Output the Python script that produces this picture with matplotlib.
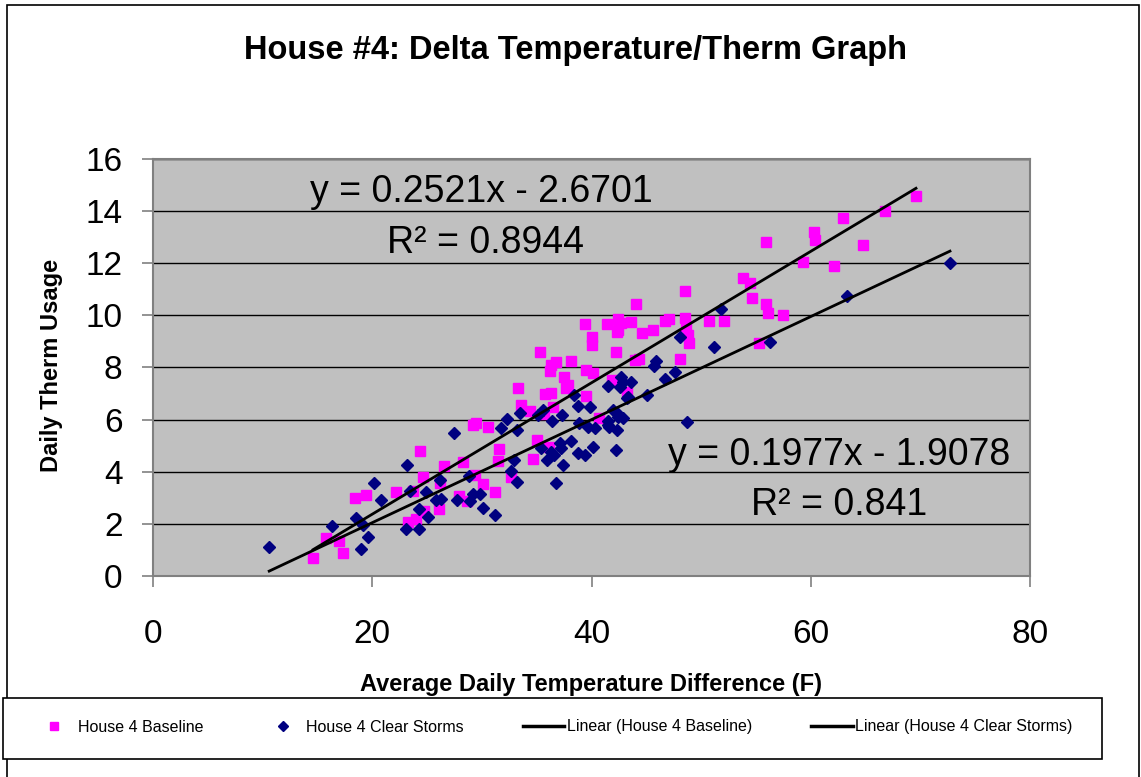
import numpy as np
import matplotlib.pyplot as plt
from matplotlib.patches import Rectangle
from matplotlib.lines import Line2D

plt.rcParams['font.family'] = ['Liberation Sans', 'DejaVu Sans']

# House 4 Baseline (pink squares)
base_x = [24.4, 26.5, 24.6, 26.2, 18.4, 19.4, 22.2, 23.7, 24.7, 26.1, 23.3, 24.0,
          15.8, 17.0, 17.3, 14.6, 40.0, 40.0, 42.3, 42.2, 35.3, 36.3, 36.8, 36.2,
          38.1, 39.5, 40.1, 37.5, 37.9, 37.7, 33.3, 35.8, 36.3, 39.5, 41.9, 43.2,
          33.6, 34.4, 36.5, 35.7, 29.2, 29.5, 30.6, 40.7, 35.0, 36.1, 31.6, 31.5,
          34.7, 28.3, 29.4, 32.7, 30.1, 31.2, 27.9, 28.6, 48.5, 54.6, 55.9, 56.1,
          44.1, 39.4, 41.4, 42.4, 42.7, 42.4, 43.6, 44.6, 45.6, 46.7, 47.1, 48.5,
          48.6, 50.7, 52.1, 48.8, 48.9, 48.1, 44.0, 44.3, 55.3, 69.6, 66.8, 62.9,
          60.3, 60.4, 55.9, 64.8, 59.3, 62.1, 53.8, 54.5, 57.5]
base_y = [4.81, 4.23, 3.81, 3.56, 3.00, 3.10, 3.23, 3.27, 2.50, 2.56, 2.08, 2.19,
          1.45, 1.36, 0.90, 0.68, 9.18, 8.86, 9.37, 8.60, 8.60, 8.10, 8.20, 7.88,
          8.26, 7.90, 7.78, 7.62, 7.33, 7.20, 7.20, 6.98, 7.03, 6.92, 7.52, 7.05,
          6.56, 6.33, 6.50, 6.21, 5.79, 5.86, 5.73, 6.05, 5.22, 4.96, 4.87, 4.41,
          4.48, 4.39, 3.87, 3.81, 3.52, 3.23, 3.08, 2.89, 10.95, 10.65, 10.43, 10.08,
          10.42, 9.67, 9.67, 9.88, 9.69, 9.44, 9.73, 9.31, 9.44, 9.78, 9.85, 9.91,
          9.60, 9.78, 9.78, 9.24, 8.95, 8.31, 8.29, 8.32, 8.95, 14.58, 13.99, 13.75,
          13.18, 12.88, 12.81, 12.70, 12.05, 11.88, 11.42, 11.26, 10.01]

# House 4 Clear Storms (navy diamonds)
storm_x = [10.6, 16.3, 18.5, 19.2, 19.6, 19.0, 20.2, 20.8, 23.2, 23.4, 24.9, 24.3,
           25.1, 23.1, 24.3, 26.2, 25.8, 26.3, 42.7, 42.9, 42.6, 41.5, 38.4, 38.8,
           39.9, 43.2, 42.0, 42.4, 42.9, 35.6, 35.1, 33.5, 32.3, 31.7, 33.2, 27.5,
           36.4, 37.3, 38.9, 39.7, 40.3, 41.5, 41.6, 42.3, 35.4, 35.9, 36.3, 36.6,
           37.1, 37.2, 38.1, 38.8, 39.4, 40.1, 42.2, 32.9, 32.7, 33.2, 37.4, 36.8,
           28.8, 29.2, 29.8, 27.7, 28.9, 30.1, 31.2, 41.5, 42.3, 51.8, 48.1, 51.2,
           56.3, 45.9, 45.7, 47.6, 46.7, 43.6, 43.3, 45.1, 48.7, 72.7, 63.3]
storm_y = [1.10, 1.92, 2.24, 1.94, 1.51, 1.04, 3.56, 2.92, 4.27, 3.26, 3.23, 2.56,
           2.25, 1.80, 1.80, 3.68, 2.92, 2.95, 7.65, 7.45, 7.26, 7.29, 6.94, 6.52,
           6.47, 6.82, 6.37, 6.09, 6.07, 6.37, 6.18, 6.27, 6.01, 5.67, 5.60, 5.47,
           5.96, 6.18, 5.86, 5.73, 5.67, 5.79, 5.70, 5.60, 4.90, 4.45, 4.77, 4.64,
           5.11, 4.92, 5.18, 4.71, 4.64, 4.96, 4.83, 4.45, 4.03, 3.62, 4.26, 3.56,
           3.85, 3.15, 3.15, 2.92, 2.89, 2.62, 2.34, 5.96, 6.24, 10.24, 9.16, 8.80,
           8.99, 8.26, 8.06, 7.81, 7.55, 7.45, 6.86, 6.94, 5.89, 12.02, 10.75]

# trendline coefficients as shown on the chart
base_fit = (0.2521, -2.6701, 0.8944)
storm_fit = (0.1977, -1.9078, 0.841)

fig = plt.figure(figsize=(11.41, 7.77), dpi=100)
W, H = 1141, 777

def px(x0, y0, x1, y1):
    # pixel box -> figure fraction rectangle
    return (x0 / W, 1 - y1 / H, (x1 - x0) / W, (y1 - y0) / H)

# outer chart border
fig.patches.append(Rectangle((7 / W, -0.1), (1139 - 7) / W, 1.1 - 5 / H,
                             transform=fig.transFigure, fill=False,
                             edgecolor='black', linewidth=1.2))

ax = fig.add_axes(px(153, 159, 1030, 576))
ax.set_facecolor('#C0C0C0')
ax.set_xlim(0, 80)
ax.set_ylim(0, 16)
ax.set_xticks([0, 20, 40, 60, 80])
ax.set_yticks(np.arange(0, 17, 2))
ax.grid(axis='y', color='black', linewidth=1.0)
ax.set_axisbelow(True)
for s in ax.spines.values():
    s.set_color('#808080')
    s.set_linewidth(1.5)
ax.tick_params(axis='both', direction='out', length=8, width=1.2, color='#808080',
               labelsize=24)
ax.tick_params(axis='y', pad=14)
ax.tick_params(axis='x', pad=23)

ax.plot(base_x, base_y, 's', color='#FF00FF', markersize=6.5, linestyle='none',
        label='House 4 Baseline')
ax.plot(storm_x, storm_y, 'D', color='#000080', markersize=6.5, linestyle='none',
        label='House 4 Clear Storms')

bx = np.array([min(base_x), max(base_x)])
sx = np.array([min(storm_x), max(storm_x)])
ax.plot(bx, base_fit[0] * bx + base_fit[1], color='black', linewidth=2,
        label='Linear (House 4 Baseline)')
ax.plot(sx, storm_fit[0] * sx + storm_fit[1], color='black', linewidth=2,
        label='Linear (House 4 Clear Storms)')

ax.text(30.0, 14.73, f'y = {base_fit[0]}x - {abs(base_fit[1])}', fontsize=27,
        ha='center', va='center')
ax.text(30.3, 12.78, f'R\u00b2 = {base_fit[2]}', fontsize=27, ha='center', va='center')
ax.text(62.6, 4.64, f'y = {storm_fit[0]}x - {abs(storm_fit[1])}', fontsize=27,
        ha='center', va='center')
ax.text(62.6, 2.72, f'R\u00b2 = {storm_fit[2]}', fontsize=27, ha='center', va='center')

fig.text(575 / W, 1 - 51 / H, 'House #4: Delta Temperature/Therm Graph',
         fontsize=23.5, fontweight='bold', ha='center', va='center')
fig.text(591 / W, 1 - 684 / H, 'Average Daily Temperature Difference (F)',
         fontsize=17, fontweight='bold', ha='center', va='center')
fig.text(52 / W, 1 - 365 / H, 'Daily Therm Usage', fontsize=17, fontweight='bold',
         rotation=90, ha='center', va='center')

# legend box
fig.patches.append(Rectangle((3 / W, 1 - 759 / H), (1102 - 3) / W, (759 - 698) / H,
                             transform=fig.transFigure, facecolor='white',
                             edgecolor='black', linewidth=1.2, zorder=5))
handles = [
    Line2D([], [], marker='s', color='#FF00FF', linestyle='none', markersize=6),
    Line2D([], [], marker='D', color='#000080', linestyle='none', markersize=5),
    Line2D([], [], color='black', linewidth=2.5),
    Line2D([], [], color='black', linewidth=2.5),
]
labels = ['House 4 Baseline', 'House 4 Clear Storms', 'Linear (House 4 Baseline)',
          'Linear (House 4 Clear Storms)']
leg = fig.legend(handles, labels, loc='center', bbox_to_anchor=(553 / W, 1 - 727 / H),
                 ncol=4, frameon=False, fontsize=11.5, handlelength=2.6,
                 handletextpad=0.15, columnspacing=3.7)
leg.set_zorder(6)

fig.savefig('out.png', dpi=100)
